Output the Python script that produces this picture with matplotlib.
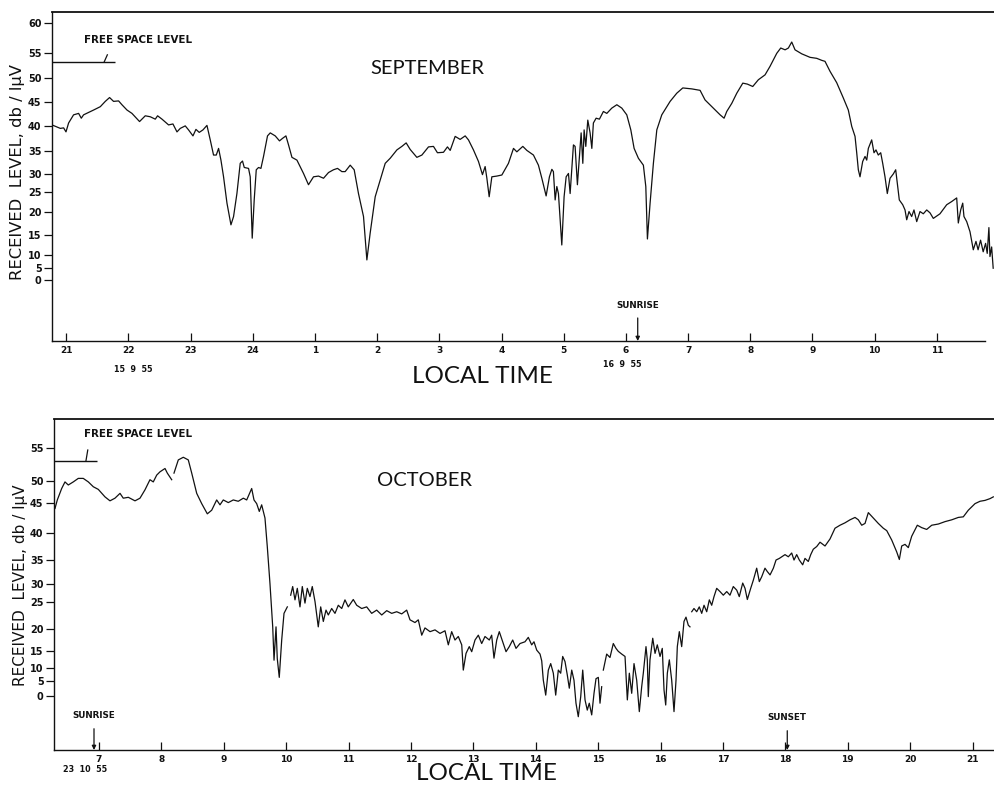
import numpy as np
import matplotlib
matplotlib.use("Agg")
import matplotlib.pyplot as plt

nan = float("nan")

# ---------------------------------------------------------------- data
# September record, local time in hours (past midnight continues at 25 = 01h)
sep_hours = [
    20.770, 20.904, 20.957, 20.995, 21.037, 21.117, 21.198, 21.241, 21.278, 21.439,
    21.547, 21.627, 21.696, 21.760, 21.841, 21.895, 21.976, 22.056, 22.178, 22.270,
    22.350, 22.431, 22.468, 22.539, 22.645, 22.715, 22.780, 22.833, 22.913, 22.966,
    23.037, 23.085, 23.138, 23.198, 23.262, 23.315, 23.368, 23.412, 23.449, 23.487,
    23.529, 23.584, 23.648, 23.690, 23.744, 23.797, 23.834, 23.862, 23.931, 23.958,
    23.990, 24.022, 24.055, 24.092, 24.130, 24.172, 24.236, 24.280, 24.360, 24.429,
    24.477, 24.532, 24.574, 24.629, 24.709, 24.815, 24.895, 24.976, 25.056, 25.137,
    25.217, 25.297, 25.362, 25.432, 25.485, 25.566, 25.630, 25.699, 25.780, 25.834,
    25.887, 25.968, 26.048, 26.129, 26.209, 26.317, 26.397, 26.466, 26.530, 26.638,
    26.719, 26.825, 26.905, 26.969, 27.066, 27.130, 27.174, 27.254, 27.334, 27.415,
    27.468, 27.548, 27.629, 27.693, 27.736, 27.764, 27.801, 27.844, 27.924, 28.005,
    28.111, 28.192, 28.246, 28.342, 28.407, 28.513, 28.593, 28.648, 28.717, 28.770,
    28.809, 28.834, 28.862, 28.889, 28.915, 28.969, 29.006, 29.039, 29.076, 29.103,
    29.156, 29.183, 29.220, 29.252, 29.280, 29.307, 29.328, 29.355, 29.387, 29.424,
    29.452, 29.477, 29.521, 29.574, 29.638, 29.693, 29.773, 29.854, 29.934, 30.014,
    30.079, 30.132, 30.201, 30.281, 30.320, 30.346, 30.389, 30.442, 30.497, 30.577,
    30.711, 30.818, 30.915, 31.060, 31.193, 31.273, 31.407, 31.515, 31.579, 31.622,
    31.703, 31.783, 31.880, 31.953, 32.040, 32.130, 32.238, 32.318, 32.426, 32.490,
    32.560, 32.613, 32.667, 32.720, 32.828, 32.961, 33.069, 33.149, 33.202, 33.283,
    33.390, 33.497, 33.577, 33.632, 33.685, 33.712, 33.738, 33.765, 33.808, 33.846,
    33.873, 33.899, 33.953, 33.990, 34.022, 34.059, 34.098, 34.130, 34.167, 34.204,
    34.248, 34.301, 34.339, 34.365, 34.397, 34.452, 34.489, 34.516, 34.553, 34.596,
    34.633, 34.677, 34.730, 34.783, 34.838, 34.891, 34.944, 35.051, 35.159, 35.240,
    35.320, 35.346, 35.384, 35.417, 35.437, 35.481, 35.534, 35.587, 35.630, 35.664,
    35.704, 35.746, 35.785, 35.811, 35.838, 35.855, 35.882, 35.907,
]
sep_db = [
    40.2, 39.5, 39.6, 38.8, 40.6, 42.3, 42.6, 41.6, 42.3, 43.3,
    44.0, 45.1, 45.9, 45.1, 45.2, 44.4, 43.3, 42.6, 40.9, 42.1,
    41.9, 41.4, 42.1, 41.4, 40.2, 40.4, 38.8, 39.5, 40.0, 39.2,
    38.0, 39.3, 38.7, 39.2, 40.1, 37.2, 34.1, 34.1, 35.5, 33.0,
    29.2, 22.2, 17.2, 19.0, 24.6, 32.3, 32.8, 31.4, 31.2, 29.2,
    14.2, 23.0, 30.9, 31.4, 31.2, 33.8, 38.0, 38.6, 38.0, 37.0,
    37.5, 38.0, 36.2, 33.6, 33.0, 30.1, 27.0, 29.2, 29.4, 28.8,
    30.3, 30.9, 31.2, 30.5, 30.5, 31.9, 30.9, 24.6, 19.0, 8.1,
    15.4, 23.8, 28.3, 32.3, 33.4, 35.2, 35.9, 36.6, 35.3, 33.6,
    34.1, 35.8, 35.9, 34.6, 34.7, 35.8, 35.1, 37.9, 37.3, 38.0,
    37.2, 35.2, 32.7, 29.8, 31.6, 28.8, 23.8, 29.2, 29.4, 29.7,
    32.3, 35.5, 34.8, 35.9, 35.1, 34.1, 31.9, 28.8, 24.0, 29.2,
    31.0, 30.5, 23.0, 26.5, 24.6, 12.5, 23.8, 29.2, 30.1, 24.6,
    36.2, 35.9, 27.0, 33.8, 38.6, 32.3, 39.2, 35.9, 41.2, 38.6,
    35.5, 40.6, 41.6, 41.4, 43.0, 42.6, 43.7, 44.4, 43.7, 42.3,
    39.2, 35.5, 33.4, 31.9, 26.5, 14.0, 22.2, 32.3, 39.2, 42.3,
    45.1, 46.8, 47.9, 47.7, 47.4, 45.4, 43.7, 42.3, 41.6, 43.0,
    44.7, 46.8, 48.9, 48.7, 48.2, 49.6, 50.6, 52.3, 54.9, 55.8,
    55.5, 55.8, 56.8, 55.5, 54.8, 54.1, 53.9, 53.5, 53.3, 51.3,
    49.0, 45.8, 43.3, 39.9, 37.9, 34.6, 30.9, 29.2, 32.7, 33.8,
    33.0, 35.5, 37.2, 34.6, 35.2, 34.1, 34.6, 32.3, 29.2, 24.6,
    28.8, 30.0, 30.9, 27.4, 23.0, 21.8, 20.5, 18.3, 20.1, 19.0,
    20.5, 17.9, 20.1, 19.6, 20.5, 19.8, 18.6, 19.6, 21.8, 22.6,
    23.5, 17.6, 20.5, 22.2, 19.0, 17.9, 15.7, 11.3, 13.4, 11.3,
    13.7, 10.8, 12.9, 10.4, 16.6, 9.4, 12.0, 4.9,
]

# October record, local time in hours (nan = pen lifted)
oct_hours = [
    6.295, 6.332, 6.402, 6.455, 6.508, 6.588, 6.668, 6.748, 6.829, 6.909,
    6.989, 7.096, 7.176, 7.256, 7.337, 7.389, 7.470, 7.577, 7.657, 7.737,
    7.817, 7.870, 7.925, 7.978, 8.058, 8.095, 8.165, nan, 8.202, 8.271,
    8.351, 8.431, 8.486, 8.566, 8.646, 8.736, 8.806, 8.886, 8.939, 8.992,
    9.072, 9.152, 9.232, 9.313, 9.367, 9.447, 9.484, 9.527, 9.569, 9.607,
    9.660, 9.697, 9.740, 9.784, 9.805, 9.837, 9.857, 9.889, 9.928, 9.965,
    10.018, nan, 10.072, 10.104, 10.141, 10.178, 10.221, 10.258, 10.301, 10.338,
    10.381, 10.418, 10.462, 10.514, 10.553, 10.595, 10.638, 10.675, 10.729, 10.782,
    10.835, 10.890, 10.942, 10.995, 11.075, 11.130, 11.210, 11.290, 11.370, 11.450,
    11.531, 11.611, 11.691, 11.771, 11.851, 11.931, 11.984, 12.064, 12.117, 12.172,
    12.224, 12.305, 12.385, 12.465, 12.545, 12.598, 12.652, 12.705, 12.758, 12.813,
    12.838, 12.882, 12.934, 12.973, 13.026, 13.079, 13.133, 13.186, 13.255, 13.293,
    13.330, 13.374, 13.415, 13.470, 13.523, 13.575, 13.630, 13.683, 13.747, 13.827,
    13.880, 13.934, 13.971, 14.015, 14.068, 14.095, 14.120, 14.159, 14.201, 14.239,
    14.281, 14.319, 14.361, 14.399, 14.431, 14.468, 14.505, 14.537, 14.576, 14.612,
    14.644, 14.681, 14.720, 14.752, 14.789, 14.825, 14.857, 14.896, 14.933, 14.965,
    15.002, 15.029, 15.056, nan, 15.082, 15.136, 15.189, 15.242, 15.285, 15.322,
    15.377, 15.430, 15.467, 15.499, 15.537, 15.574, 15.617, 15.659, 15.697, 15.723,
    15.766, 15.787, 15.803, 15.830, 15.874, 15.911, 15.947, 15.991, 16.027, 16.055,
    16.082, 16.108, 16.140, 16.178, 16.215, 16.247, 16.268, 16.300, 16.338, 16.375,
    16.407, 16.444, 16.471, nan, 16.499, 16.535, 16.579, 16.620, 16.659, 16.696,
    16.739, 16.781, 16.819, 16.856, 16.899, 16.952, 17.005, 17.060, 17.112, 17.165,
    17.220, 17.261, 17.316, 17.353, 17.390, 17.444, 17.486, 17.540, 17.582, 17.620,
    17.673, 17.710, 17.754, 17.807, 17.850, 17.903, 17.941, 17.994, 18.047, 18.101,
    18.138, 18.181, 18.223, 18.277, 18.314, 18.367, 18.406, 18.447, 18.502, 18.555,
    18.635, 18.715, 18.795, 18.875, 18.955, 19.035, 19.116, 19.169, 19.223, 19.276,
    19.329, 19.409, 19.489, 19.569, 19.624, 19.704, 19.784, 19.826, 19.864, 19.917,
    19.970, 20.024, 20.114, 20.184, 20.264, 20.345, 20.451, 20.558, 20.665, 20.771,
    20.851, 20.931, 21.039, 21.119, 21.199, 21.279, 21.332,
]
oct_db = [
    44.1, 45.7, 48.3, 49.8, 49.1, 49.8, 50.4, 50.4, 49.8, 48.7,
    48.1, 46.4, 45.5, 46.1, 47.2, 46.1, 46.3, 45.5, 46.1, 48.0,
    50.2, 49.8, 50.9, 51.4, 51.9, 51.2, 50.2, nan, 51.2, 53.2,
    53.6, 53.2, 51.2, 47.2, 44.9, 43.2, 43.8, 45.7, 44.7, 45.7,
    45.1, 45.7, 45.4, 46.1, 45.7, 48.3, 45.7, 44.9, 43.6, 44.7,
    42.5, 37.5, 30.1, 20.4, 12.3, 20.4, 12.8, 6.4, 17.5, 22.9,
    24.1, nan, 26.9, 29.3, 25.6, 28.8, 24.1, 29.3, 24.8, 28.8,
    26.5, 29.3, 25.1, 20.4, 24.1, 21.4, 23.5, 22.6, 23.8, 22.9,
    24.4, 23.8, 25.6, 24.1, 25.7, 24.4, 23.8, 24.1, 22.9, 23.5,
    22.6, 23.4, 22.9, 23.2, 22.8, 23.5, 21.7, 21.2, 21.7, 18.6,
    20.2, 19.4, 19.8, 19.0, 19.6, 16.4, 19.4, 17.5, 18.3, 16.4,
    9.2, 14.3, 16.0, 14.8, 17.5, 18.6, 16.7, 18.3, 17.5, 18.6,
    12.9, 17.5, 19.4, 17.1, 14.8, 16.0, 17.5, 15.6, 16.7, 17.1,
    18.1, 16.4, 17.1, 15.2, 14.1, 12.1, 5.4, 0.3, 9.2, 11.3,
    8.0, 0.3, 9.2, 8.0, 13.4, 11.9, 7.3, 2.6, 9.2, 5.3,
    -2.4, -6.9, -0.2, 9.2, -1.3, -4.7, -2.4, -6.3, 0.9, 5.9,
    6.4, -2.4, 3.1, nan, 9.2, 14.1, 13.1, 16.7, 15.6, 14.9,
    14.1, 13.4, -1.3, 8.0, 0.9, 11.3, 5.3, -5.2, 3.1, 8.0,
    16.0, 12.4, -0.2, 12.4, 17.9, 14.3, 16.4, 13.4, 15.6, 2.0,
    -3.0, 8.0, 12.4, 5.3, -5.2, 5.3, 16.0, 19.4, 16.0, 21.4,
    22.2, 20.7, 20.4, nan, 23.2, 23.8, 23.2, 24.1, 22.9, 24.4,
    23.2, 25.6, 24.4, 26.5, 28.8, 27.9, 26.9, 27.9, 26.9, 29.3,
    28.3, 26.5, 30.2, 28.8, 25.7, 28.8, 30.8, 33.3, 30.5, 31.5,
    33.3, 32.6, 31.9, 33.3, 35.0, 35.3, 35.6, 36.0, 35.6, 36.3,
    35.0, 36.0, 35.0, 34.0, 35.3, 34.7, 36.0, 37.0, 37.5, 38.3,
    37.6, 38.9, 40.8, 41.3, 41.7, 42.2, 42.6, 42.2, 41.3, 41.6,
    43.4, 42.5, 41.6, 40.8, 40.4, 38.7, 36.5, 35.1, 37.6, 37.9,
    37.3, 39.4, 41.3, 40.9, 40.6, 41.3, 41.5, 41.9, 42.2, 42.6,
    42.7, 43.8, 44.9, 45.4, 45.6, 46.0, 46.4,
]

sep_free_space_db = 53.2
oct_free_space_db = 53.0

sep_sunrise = 30.19
oct_sunrise = 6.92
oct_sunset = 18.03

sep_hour_ticks = list(range(21, 36))
sep_hour_labels = ["21", "22", "23", "24", "1", "2", "3", "4", "5", "6",
                   "7", "8", "9", "10", "11"]
oct_hour_ticks = list(range(7, 22))
oct_hour_labels = [str(h) for h in oct_hour_ticks]

sep_db_ticks = [0, 5, 10, 15, 20, 25, 30, 35, 40, 45, 50, 55, 60]
oct_db_ticks = [0, 5, 10, 15, 20, 25, 30, 35, 40, 45, 50, 55]

# recorder chart paper: the dB graduations are not evenly spaced,
# row of each graduation (in px from the top of the sheet)
sep_ruling = [280, 268, 255, 235, 212, 192, 174, 151, 126, 102, 78, 53, 23]
oct_ruling = [696, 681, 668, 651, 629, 602, 584, 560, 533, 503, 481, 448]


def chart_scale(levels, ruling):
    """Piecewise-linear dB scale following the chart ruling,
    extended linearly beyond the end graduations."""
    lv = np.asarray(levels, float)
    ps = -np.asarray(ruling, float)
    s0 = (ps[1] - ps[0]) / (lv[1] - lv[0])
    s1 = (ps[-1] - ps[-2]) / (lv[-1] - lv[-2])

    def fwd(v):
        v = np.asarray(v, float)
        out = np.interp(v, lv, ps)
        out = np.where(v < lv[0], ps[0] + (v - lv[0]) * s0, out)
        out = np.where(v > lv[-1], ps[-1] + (v - lv[-1]) * s1, out)
        return out

    def inv(p):
        p = np.asarray(p, float)
        out = np.interp(p, ps, lv)
        out = np.where(p < ps[0], lv[0] + (p - ps[0]) / s0, out)
        out = np.where(p > ps[-1], lv[-1] + (p - ps[-1]) / s1, out)
        return out

    return fwd, inv


# ---------------------------------------------------------------- figure
W, H = 994, 787
fig = plt.figure(figsize=(W / 100, H / 100), dpi=100, facecolor="white")

INK = "#111111"
title_font = dict(family="Lato", color=INK, fontweight="normal")
small_font = dict(family="DejaVu Sans", color=INK, fontweight="bold")


def style_panel(ax, ruling, db_ticks, hour_ticks, hour_labels, xlim, ylim):
    fwd, inv = chart_scale(db_ticks, ruling)
    ax.set_yscale("function", functions=(fwd, inv))
    ax.set_xlim(*xlim)
    ax.set_ylim(*ylim)
    ax.set_yticks(db_ticks)
    ax.set_yticklabels([str(v) for v in db_ticks])
    ax.set_xticks(hour_ticks)
    ax.set_xticklabels(hour_labels)
    ax.yaxis.set_minor_locator(matplotlib.ticker.NullLocator())
    ax.xaxis.set_minor_locator(matplotlib.ticker.NullLocator())
    ax.tick_params(axis="y", direction="out", length=6, width=0.9, pad=1.5,
                   labelsize=7, colors=INK)
    ax.tick_params(axis="x", direction="in", length=6, width=0.9, pad=3.5,
                   labelsize=6.5, colors=INK)
    for lab in ax.get_xticklabels() + ax.get_yticklabels():
        lab.set_fontweight("bold")
    ax.spines["right"].set_visible(False)
    ax.spines["top"].set_linewidth(1.3)
    ax.spines["left"].set_linewidth(1.0)
    ax.spines["bottom"].set_linewidth(1.0)
    for s in ax.spines.values():
        s.set_color(INK)
    ax.set_facecolor("white")


# ---------------- September panel
ax1 = fig.add_axes([52 / W, 1 - 341 / H, (W - 52) / W, 329 / H])
sep_xlim = (20.77, 35.92)
style_panel(ax1, sep_ruling, sep_db_ticks, sep_hour_ticks, sep_hour_labels,
            sep_xlim, (-25.4, 61.8))
ax1.spines["bottom"].set_bounds(sep_xlim[0], 35.77)
ax1.plot(sep_hours, sep_db, color=INK, lw=0.9)

ax1.hlines(sep_free_space_db, sep_xlim[0], 21.79, color=INK, lw=1.0)
ax1.plot([21.61, 21.66], [sep_free_space_db, 54.6], color=INK, lw=0.9)
ax1.text(21.29, 57.2, "FREE SPACE LEVEL", fontsize=7.4,
         ha="left", va="center", **small_font)
ax1.annotate("SUNRISE", xy=(sep_sunrise, 0), xycoords=("data", "axes fraction"),
             xytext=(sep_sunrise, 0.109), textcoords=("data", "axes fraction"),
             ha="center", va="center", fontsize=6.3, **small_font,
             arrowprops=dict(arrowstyle="-|>", color=INK, lw=0.9,
                             mutation_scale=6, shrinkA=4, shrinkB=0))

fig.text(427 / W, 1 - 68 / H, "SEPTEMBER", fontsize=14.5, ha="center",
         va="center", **title_font)
fig.text(482 / W, 1 - 377 / H, "LOCAL TIME", fontsize=17.5, ha="center",
         va="center", **title_font)
fig.text(133 / W, 1 - 369 / H, "15  9  55", fontsize=5.8, ha="center",
         va="center", **small_font)
fig.text(622 / W, 1 - 364 / H, "16  9  55", fontsize=5.8, ha="center",
         va="center", **small_font)
fig.text(18 / W, 1 - 172 / H, "RECEIVED  LEVEL, db / l\u03bcV", fontsize=11.8,
         rotation=90, ha="center", va="center", family="DejaVu Sans",
         color=INK)

# ---------------- October panel
ax2 = fig.add_axes([54 / W, 1 - 750 / H, (W - 54) / W, 331 / H])
oct_xlim = (6.279, 21.343)
style_panel(ax2, oct_ruling, oct_db_ticks, oct_hour_ticks, oct_hour_labels,
            oct_xlim, (-18.0, 59.4))
ax2.plot(oct_hours, oct_db, color=INK, lw=0.9)

ax2.hlines(oct_free_space_db, oct_xlim[0], 6.968, color=INK, lw=1.0)
ax2.plot([6.79, 6.82], [oct_free_space_db, 54.7], color=INK, lw=0.9)
ax2.text(6.76, 57.2, "FREE SPACE LEVEL", fontsize=7.4,
         ha="left", va="center", **small_font)
ax2.annotate("SUNRISE", xy=(oct_sunrise, 0), xycoords=("data", "axes fraction"),
             xytext=(oct_sunrise, 0.103), textcoords=("data", "axes fraction"),
             ha="center", va="center", fontsize=6.3, **small_font,
             arrowprops=dict(arrowstyle="-|>", color=INK, lw=0.9,
                             mutation_scale=6, shrinkA=4, shrinkB=0))
ax2.annotate("SUNSET", xy=(oct_sunset, 0), xycoords=("data", "axes fraction"),
             xytext=(oct_sunset, 0.097), textcoords=("data", "axes fraction"),
             ha="center", va="center", fontsize=6.3, **small_font,
             arrowprops=dict(arrowstyle="-|>", color=INK, lw=0.9,
                             mutation_scale=6, shrinkA=4, shrinkB=0))

fig.text(425 / W, 1 - 480 / H, "OCTOBER", fontsize=14.5, ha="center",
         va="center", **title_font)
fig.text(486 / W, 1 - 773 / H, "LOCAL TIME", fontsize=17.5, ha="center",
         va="center", **title_font)
fig.text(85 / W, 1 - 770 / H, "23  10  55", fontsize=5.8, ha="center",
         va="center", **small_font)
fig.text(21 / W, 1 - 585 / H, "RECEIVED  LEVEL, db / l\u03bcV", fontsize=11,
         rotation=90, ha="center", va="center", family="DejaVu Sans",
         color=INK)

fig.savefig("out.png", dpi=100, facecolor="white")
